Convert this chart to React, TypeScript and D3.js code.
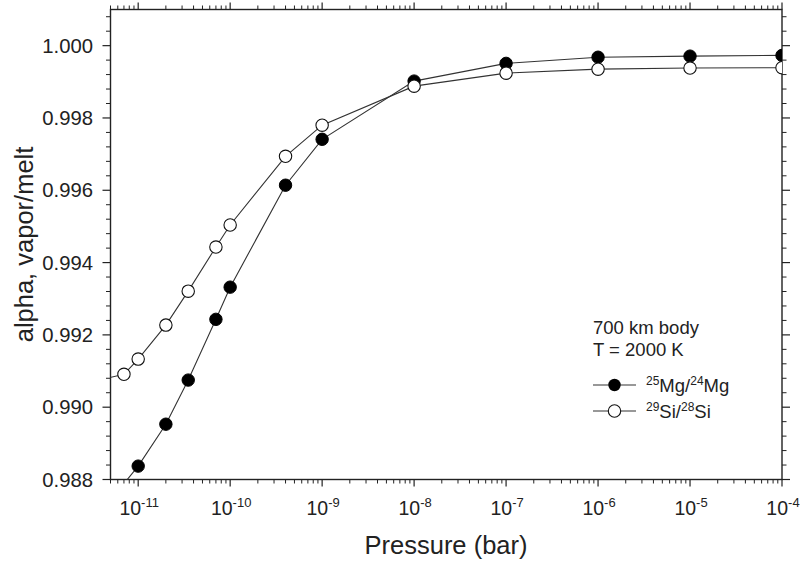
import React from "react";
import * as d3 from "d3";

const mgPressure = [5e-12, 1e-11, 2e-11, 3.5e-11, 7e-11, 1e-10, 4e-10, 1e-9, 1e-8, 1e-7, 1e-6, 1e-5, 1e-4];
const mgAlpha = [0.98743, 0.98837, 0.98953, 0.99075, 0.99243, 0.99332, 0.99614, 0.99741, 0.99902, 0.99951, 0.99968, 0.99971, 0.99973];
const siPressure = [4e-12, 7e-12, 1e-11, 2e-11, 3.5e-11, 7e-11, 1e-10, 4e-10, 1e-9, 1e-8, 1e-7, 1e-6, 1e-5, 1e-4];
const siAlpha = [0.99077, 0.99091, 0.99133, 0.99227, 0.99321, 0.99443, 0.99504, 0.99694, 0.9978, 0.99888, 0.99924, 0.99935, 0.99938, 0.99939];

const xDecades = [-11, -10, -9, -8, -7, -6, -5, -4];
const yMajor = [0.988, 0.99, 0.992, 0.994, 0.996, 0.998, 1.0];

const W = 800, H = 566;
const L = 110.5, R = 782, T = 9.5, B = 479.5;
const FONT = "Liberation Sans, Arial, Helvetica, sans-serif";
const INK = "#222";

export default function App() {
  const x = d3.scaleLog().domain([5e-12, 1e-4]).range([L, R]);
  const y = d3.scaleLinear().domain([0.988, 1.001]).range([B, T]);

  const xMinor: number[] = [];
  for (let e = -12; e <= -5; e++) {
    for (let m = 2; m <= 9; m++) {
      const v = m * Math.pow(10, e);
      if (v >= 5e-12 && v <= 1e-4) xMinor.push(v);
    }
  }
  const yMinor: number[] = [];
  for (let i = 0; i <= 32; i++) {
    const v = 0.988 + i * 0.0004;
    if (v <= 1.001 + 1e-9 && Math.abs(((v - 0.988) / 0.002) - Math.round((v - 0.988) / 0.002)) > 1e-6) yMinor.push(v);
  }

  const line = d3
    .line<[number, number]>()
    .x((d) => x(d[0]))
    .y((d) => y(d[1]));
  const mgData: [number, number][] = mgPressure.map((p, i) => [p, mgAlpha[i]]);
  const siData: [number, number][] = siPressure.map((p, i) => [p, siAlpha[i]]);

  const r = 6.2;

  return (
    <svg width={W} height={H} style={{ position: "absolute", left: 0, top: 0, background: "#fff" }} fontFamily={FONT}>
      <defs>
        <clipPath id="plot">
          <rect x={L} y={T} width={R - L} height={B - T} />
        </clipPath>
      </defs>
      <rect width={W} height={H} fill="#fff" />

      {/* x ticks bottom/top */}
      {xMinor.map((v, i) => (
        <g key={"xm" + i} stroke={INK} strokeWidth={1}>
          <line x1={x(v)} x2={x(v)} y1={B} y2={B + 4} />
          <line x1={x(v)} x2={x(v)} y1={T} y2={T - 4} />
        </g>
      ))}
      {xDecades.map((e) => (
        <g key={"xM" + e} stroke={INK} strokeWidth={1.2}>
          <line x1={x(Math.pow(10, e))} x2={x(Math.pow(10, e))} y1={B} y2={B + 7} />
          <line x1={x(Math.pow(10, e))} x2={x(Math.pow(10, e))} y1={T} y2={T - 7} />
        </g>
      ))}
      {/* y ticks left/right */}
      {yMinor.map((v, i) => (
        <g key={"ym" + i} stroke={INK} strokeWidth={1}>
          <line x1={L} x2={L - 4.5} y1={y(v)} y2={y(v)} />
          <line x1={R} x2={R + 4.5} y1={y(v)} y2={y(v)} />
        </g>
      ))}
      {yMajor.map((v, i) => (
        <g key={"yM" + i} stroke={INK} strokeWidth={1.2}>
          <line x1={L} x2={L - 8} y1={y(v)} y2={y(v)} />
          <line x1={R} x2={R + 8} y1={y(v)} y2={y(v)} />
        </g>
      ))}

      {/* frame */}
      <rect x={L} y={T} width={R - L} height={B - T} fill="none" stroke={INK} strokeWidth={1.4} />

      {/* x tick labels */}
      {xDecades.map((e) => (
        <text key={"xl" + e} x={x(Math.pow(10, e)) + 1} y={515} fontSize={19.5} textAnchor="middle" fill={INK}>
          10
          <tspan fontSize={13} dy={-8}>{e}</tspan>
        </text>
      ))}
      {/* y tick labels */}
      {yMajor.map((v, i) => (
        <text key={"yl" + i} x={93} y={y(v) + 7} fontSize={20.3} textAnchor="end" fill={INK}>
          {v.toFixed(3)}
        </text>
      ))}

      {/* axis titles */}
      <text x={446} y={554} fontSize={25.5} textAnchor="middle" fill={INK}>
        Pressure (bar)
      </text>
      <text transform={`translate(33, ${(T + B) / 2}) rotate(-90)`} fontSize={25.5} textAnchor="middle" fill={INK}>
        alpha, vapor/melt
      </text>

      {/* series */}
      <g clipPath="url(#plot)">
        <path d={line(mgData) || ""} fill="none" stroke="#333" strokeWidth={1.1} />
        <path d={line(siData) || ""} fill="none" stroke="#333" strokeWidth={1.1} />
        {mgData.map((d, i) => (
          <circle key={"mg" + i} cx={x(d[0])} cy={y(d[1])} r={r} fill="#000" stroke="#000" strokeWidth={1} />
        ))}
        {siData.map((d, i) => (
          <circle key={"si" + i} cx={x(d[0])} cy={y(d[1])} r={r} fill="#fff" stroke="#111" strokeWidth={1.1} />
        ))}
      </g>

      {/* annotation + legend */}
      <text x={593} y={334} fontSize={18.5} fill={INK}>700 km body</text>
      <text x={593} y={356} fontSize={18.5} fill={INK}>T = 2000 K</text>

      <line x1={593} x2={636} y1={385} y2={385} stroke="#333" strokeWidth={1.1} />
      <circle cx={614.5} cy={385} r={r} fill="#000" />
      <text x={646} y={392} fontSize={18.5} fill={INK}>
        <tspan fontSize={12} dy={-7}>25</tspan>
        <tspan dy={7}>Mg/</tspan>
        <tspan fontSize={12} dy={-7}>24</tspan>
        <tspan dy={7}>Mg</tspan>
      </text>

      <line x1={593} x2={636} y1={411} y2={411} stroke="#333" strokeWidth={1.1} />
      <circle cx={614.5} cy={411} r={r} fill="#fff" stroke="#111" strokeWidth={1.1} />
      <text x={646} y={418} fontSize={18.5} fill={INK}>
        <tspan fontSize={12} dy={-7}>29</tspan>
        <tspan dy={7}>Si/</tspan>
        <tspan fontSize={12} dy={-7}>28</tspan>
        <tspan dy={7}>Si</tspan>
      </text>
    </svg>
  );
}
